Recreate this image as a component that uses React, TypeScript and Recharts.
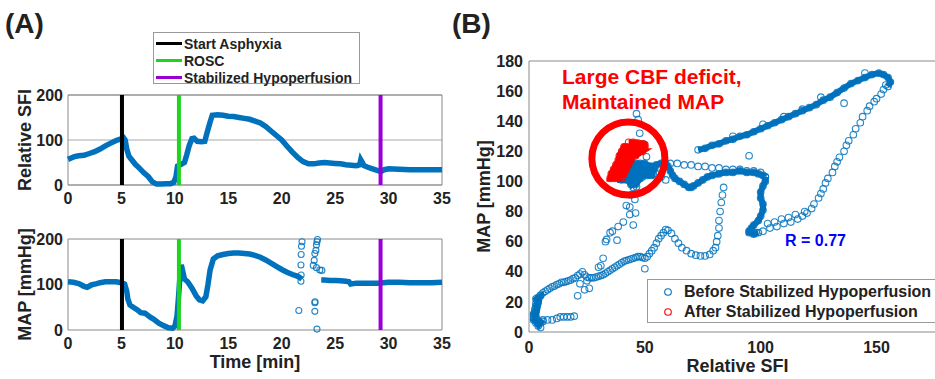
import React from "react";
import {
  ComposedChart,
  Line,
  Scatter,
  XAxis,
  YAxis,
  CartesianGrid,
  ReferenceLine,
  ReferenceArea,
  ReferenceDot,
  Legend,
  Label,
} from "recharts";

const BLUE = "#0072BD";
const RED = "#FF0000";
const INK = "#222";
const BOX = "#8a8a8a";
const FONT = "'Liberation Sans', Arial, sans-serif";

const TIME_TICKS = [0, 5, 10, 15, 20, 25, 30, 35];
const A_Y_TICKS = [0, 100, 200];
const B_X_TICKS = [0, 50, 100, 150];
const B_Y_TICKS = [0, 20, 40, 60, 80, 100, 120, 140, 160, 180];

const EVENTS = [
  { name: "Start Asphyxia", t: 5.05, color: "#000000" },
  { name: "ROSC", t: 10.38, color: "#1ed41e" },
  { name: "Stabilized Hypoperfusion", t: 29.25, color: "#9a00d6" },
];

/* (A) top: relative SFI vs time [min, SFI] */
const sfiTrace: [number, number][] = [
  [0, 57], [0.3, 60], [0.6, 63], [1.0, 65], [1.5, 66], [2.0, 70], [2.5, 74], [3.0, 80],
  [3.5, 87], [4.0, 93], [4.5, 99], [4.9, 102], [5.2, 105], [5.35, 100], [5.5, 80], [5.7, 64],
  [6.0, 55], [6.3, 46], [6.7, 37], [7.1, 27], [7.5, 19], [7.9, 7], [8.3, 2], [8.7, 2],
  [9.2, 3], [9.6, 3], [9.9, 6], [10.1, 18], [10.25, 42], [10.6, 46], [10.9, 50], [11.1, 66],
  [11.35, 88], [11.6, 103], [11.8, 104], [12.1, 97], [12.5, 96], [12.8, 97], [13.0, 115], [13.3, 140],
  [13.5, 155], [14.0, 156], [14.5, 155], [15.0, 153], [15.5, 152], [16.0, 150], [16.5, 148], [17.0, 146],
  [17.5, 142], [18.0, 138], [18.5, 130], [19.0, 120], [19.5, 110], [20.0, 100], [20.5, 86], [21.0, 73],
  [21.5, 61], [22.0, 52], [22.5, 47], [23.0, 47], [23.5, 49], [24.0, 50], [24.5, 49], [25.0, 48],
  [25.5, 47], [26.0, 45], [26.5, 44], [27.0, 43], [27.3, 45], [27.4, 56], [27.55, 50], [27.7, 43],
  [28.0, 40], [28.5, 36], [29.0, 32], [29.3, 30], [29.6, 34], [30.0, 36], [31.0, 35], [32.0, 34],
  [33.0, 34], [34.0, 34], [35.0, 34],
];

/* (A) bottom: MAP vs time [min, mmHg]; null = signal dropout */
const mapTrace: [number, number | null][] = [
  [0, 106], [0.5, 105], [1.0, 102], [1.5, 96], [1.8, 94], [2.2, 99], [2.7, 102], [3.0, 104],
  [3.5, 106], [4.0, 106], [4.5, 106], [5.0, 104], [5.3, 101], [5.5, 85], [5.6, 68], [5.8, 55],
  [6.1, 50], [6.5, 44], [6.8, 38], [7.2, 37], [7.7, 28], [8.0, 24], [8.5, 15], [9.0, 9],
  [9.4, 5], [9.8, 4], [10.0, 8], [10.2, 30], [10.35, 75], [10.5, 125], [10.6, 143], [10.75, 128],
  [10.9, 112], [11.2, 106], [11.6, 92], [12.0, 75], [12.3, 66], [12.6, 64], [12.9, 73], [13.1, 100],
  [13.3, 132], [13.6, 156], [14.0, 163], [14.5, 166], [15.0, 168], [15.5, 169], [16.0, 169], [16.5, 168],
  [17.0, 167], [17.5, 164], [18.0, 160], [18.5, 154], [19.0, 147], [19.5, 140], [20.0, 133], [20.5, 127],
  [21.0, 122], [21.5, 118], [21.9, 112], [22.8, null], [23.7, 110], [24.0, 110], [24.5, 109], [25.0, 109],
  [25.5, 108], [26.0, 107], [26.3, 106], [26.45, 101], [27.0, 103], [27.5, 103], [28.0, 103], [28.5, 103],
  [29.0, 103], [29.5, 104], [30.0, 105], [31.0, 105], [32.0, 104], [33.0, 104], [34.0, 104], [35.0, 105],
];

const mapOutliers: [number, number][] = [
  [21.6, 43], [21.8, 107], [21.82, 121], [21.8, 143], [21.82, 166], [21.85, 184], [21.9, 194],
  [22.95, 142], [23.04, 153], [23.1, 168], [23.2, 175], [23.25, 187], [23.3, 194], [23.35, 199],
  [23.25, 137], [23.57, 132], [23.76, 131], [23.1, 41], [23.1, 60], [23.12, 62], [23.3, 2],
];

/* (B) MAP vs relative SFI [SFI, MAP] */
const bBaseline: [number, number][] = [
  [53, 110], [55, 111], [57, 112], [59, 112], [60, 110], [61, 107], [62, 104], [63, 102],
  [65, 100], [67, 98], [69, 96], [70, 96], [71, 97], [73, 99], [75, 101], [77, 103],
  [79, 104], [82, 105], [85, 106], [88, 106], [91, 107], [94, 106], [97, 106], [99, 105],
  [101, 104], [102, 103],
];
const bBaselineTop: [number, number][] = [
  [58, 112], [61, 112], [64, 112], [67, 111], [70, 111], [73, 110], [76, 110], [79, 109],
  [82, 109], [85, 108], [88, 108], [91, 108], [94, 107], [97, 107], [100, 106],
];
const bHook: [number, number][] = [
  [102, 103], [102, 100], [101, 97], [100, 93], [100, 89], [101, 85], [101, 81], [100, 77],
  [99, 74], [97, 71], [96, 69], [95, 67], [95, 66], [97, 65], [99, 66],
];
const bRise: [number, number][] = [
  [98, 66], [101, 67], [104, 69], [107, 70], [110, 72], [113, 73], [116, 75], [118, 77],
  [120, 79], [122, 82], [123, 85], [125, 89], [126, 92], [127, 95], [128, 99], [129, 102],
  [131, 106], [132, 110], [133, 113], [134, 116], [136, 120], [137, 124], [138, 127], [140, 131],
  [141, 135], [143, 139], [144, 143], [146, 147], [147, 150], [149, 153], [150, 155], [152, 158],
  [153, 161], [154, 164], [103, 72], [106, 73], [109, 75], [112, 76], [115, 78], [119, 80],
];
const bUpper: [number, number][] = [
  [155, 163], [156, 166], [155, 169], [153, 171], [151, 172], [148, 171], [145, 169], [142, 167],
  [139, 165], [136, 162], [133, 159], [130, 156], [127, 154], [124, 151], [121, 149], [118, 147],
  [115, 145], [112, 143], [109, 141], [106, 139], [103, 137], [100, 135], [97, 133], [94, 131],
  [91, 130], [88, 128], [85, 127], [82, 125], [79, 124], [76, 122], [73, 121],
];
const bStray: [number, number][] = [
  [136, 152], [95, 117], [126, 156], [110, 143], [145, 172], [118, 148], [101, 138], [88, 130],
];
const bAsphyxia: [number, number][] = [
  [2, 9], [2, 11], [2.5, 13], [2.5, 15], [3, 17], [3, 19], [3.5, 21], [4, 23],
  [5, 24.5], [6, 26], [7, 27], [8, 28], [9, 29], [10, 30], [11, 30.5], [12, 31.5],
  [13, 32], [14, 33], [15, 33], [16, 33.5], [17, 34], [18, 34.5], [19, 35.5], [20, 36],
  [21, 37.5], [22, 38.5], [23, 40], [24, 38], [25, 36.5], [26, 36], [27, 36], [28, 36],
  [29, 36.5], [30, 37], [31, 37.5], [32, 38], [33, 39], [34, 40], [35, 41], [36, 42],
  [37, 43], [38, 44], [39, 45], [40, 46], [41, 47], [42, 47.5], [43, 48], [44, 48.5],
  [45, 49], [46, 49.5], [47, 50], [48, 50], [49, 49.5], [50, 49], [51, 50], [52, 52],
  [53, 54], [54, 56], [55, 59], [56, 62], [57, 64], [58, 66], [59, 68], [60, 67.5],
  [61.5, 65.5], [63, 62], [64.5, 59], [66, 56], [68, 54], [70, 52], [72, 51], [74, 50.5],
  [76, 50.5], [78, 51.5], [79.5, 54], [80.5, 56], [81, 60], [81.5, 64], [82, 69], [82, 74],
  [82.5, 80], [83, 86], [83.5, 91], [84, 96], [50, 42],
];
const bLowBlob: [number, number][] = [
  [5, 3], [4, 4], [3, 6], [2, 8], [3, 10], [2, 12], [3, 14], [3, 17], [4, 20], [3, 22], [5, 24],
  [3, 9], [4, 7], [5, 6], [6, 8],
];
const bLowRow: [number, number][] = [
  [6, 7], [8, 8], [10, 8], [12, 9], [13.5, 10], [15, 10], [16.5, 10], [18, 10], [19.5, 10.5],
];
const bRosc: [number, number][] = [
  [21, 24], [24, 28], [22, 32], [26, 29], [25, 34], [30, 43], [31, 44], [32, 49],
  [33, 60], [33.5, 61.5], [35, 66], [36, 67], [38, 61], [38.5, 70], [40.7, 73], [43.5, 78],
  [45, 71], [46, 79], [43.5, 83], [42, 84], [45.7, 88], [44, 91], [46.4, 96.5], [45, 99],
  [47, 101], [49, 103], [50, 106], [52, 110], [53.6, 105], [50.7, 116.4], [49.3, 125], [47.8, 132],
  [47.1, 141], [46.4, 145], [55, 105], [57, 103], [59, 101],
];
const bPost: [number, number][] = [
  [44, 112], [46, 112], [48, 112], [50, 112],
  [52, 110], [50, 110], [48, 110], [46, 110], [44, 110],
  [42, 107], [44, 107], [46, 107], [48, 107], [50, 107], [52, 107], [54, 108],
  [53, 104], [51, 104], [49, 104], [47, 104], [45, 104], [43, 104], [41, 104],
  [40, 101], [42, 101], [44, 101], [46, 101], [48, 102],
  [46, 98], [44, 98], [45, 96],
];
const bAfter: [number, number][] = [
  [43, 126], [45, 126], [47, 125.5], [49, 125], [50, 124.5],
  [50, 123], [48, 123], [46, 123], [44, 123], [42, 123], [41, 123],
  [40, 120], [42, 120], [44, 120], [46, 120], [48, 120], [49, 120],
  [46, 117], [44, 117], [42, 117], [40, 117], [39, 117],
  [38.5, 114], [40, 114], [42, 114], [44, 114],
  [43, 111], [41, 111], [39, 111], [37.5, 111],
  [36.5, 108], [38, 108], [40, 108], [42, 108],
  [41, 105], [39, 105], [37, 105], [35.5, 105],
  [35, 102], [37, 102], [39, 102], [40, 102],
];

const tsRows = (rows: [number, number | null][]) => rows.map(([t, v]) => ({ t, v }));
const bRows = (rows: [number, number][]) => rows.map(([sfi, map]) => ({ sfi, map }));

const tickStyle = { fontSize: 16, fontWeight: 700, fill: INK, fontFamily: FONT };
const titleStyle = { fontSize: 18, fontWeight: 700, fill: INK, fontFamily: FONT };
const inTick = { stroke: BOX, strokeWidth: 1 };

const ring = (color: string, r = 3.3) => (p: any) =>
  p.cx == null ? <g /> : (
    <circle cx={p.cx} cy={p.cy} r={r} fill="none" stroke={color} strokeWidth={1.1} strokeOpacity={0.85} />
  );

function EventLegend() {
  return (
    <div
      style={{
        width: 207,
        height: 52,
        boxSizing: "border-box",
        border: "1px solid #9a9a9a",
        background: "#fff",
        fontFamily: FONT,
        fontWeight: 700,
        fontSize: 14,
        color: INK,
        paddingTop: 2,
      }}
    >
      {EVENTS.map((e) => (
        <div key={e.name} style={{ display: "flex", alignItems: "center", height: 17 }}>
          <span style={{ display: "inline-block", width: 26, height: 3, background: e.color, marginLeft: 2, marginRight: 2 }} />
          {e.name}
        </div>
      ))}
    </div>
  );
}

function ScatterLegend() {
  const items = [
    { name: "Before Stabilized Hypoperfusion", color: BLUE },
    { name: "After Stabilized Hypoperfusion", color: RED },
  ];
  return (
    <div
      style={{
        width: 300,
        height: 44,
        boxSizing: "border-box",
        border: "1px solid #9a9a9a",
        background: "#fff",
        fontFamily: FONT,
        fontWeight: 700,
        fontSize: 16,
        color: INK,
        paddingTop: 2,
      }}
    >
      {items.map((it) => (
        <div key={it.name} style={{ display: "flex", alignItems: "center", height: 20 }}>
          <svg width={36} height={20}>
            <circle cx={20} cy={10} r={3.3} fill="none" stroke={it.color} strokeWidth={1.1} />
          </svg>
          {it.name}
        </div>
      ))}
    </div>
  );
}

export default function App() {
  const sfiData = tsRows(sfiTrace);
  const mapData = tsRows(mapTrace);
  const outlierData = tsRows(mapOutliers);

  return (
    <div
      style={{
        position: "absolute",
        left: 0,
        top: 0,
        width: 935,
        height: 379,
        overflow: "hidden",
        background: "#fff",
        fontFamily: FONT,
      }}
    >
      {/* ---- (A) top: relative SFI ---- */}
      <div style={{ position: "absolute", left: 0, top: 0 }}>
        <ComposedChart width={470} height={215} data={sfiData} margin={{ top: 95, right: 28, bottom: 0, left: 0 }}>
          <CartesianGrid vertical={false} stroke="#a8a8a8" />
          <XAxis dataKey="t" type="number" domain={[0, 35]} ticks={TIME_TICKS} height={30} tick={tickStyle} tickLine={false} axisLine={false} />
          <XAxis xAxisId="inB" dataKey="t" type="number" domain={[0, 35]} ticks={TIME_TICKS} mirror tick={false} axisLine={false} tickLine={inTick} tickSize={4} />
          <XAxis xAxisId="inT" dataKey="t" type="number" domain={[0, 35]} ticks={TIME_TICKS} orientation="top" mirror tick={false} axisLine={false} tickLine={inTick} tickSize={4} />
          <YAxis type="number" domain={[0, 200]} ticks={A_Y_TICKS} width={68} tick={tickStyle} tickLine={false} axisLine={false} tickSize={4} tickMargin={1}>
            <Label value="Relative SFI" angle={-90} position="insideLeft" offset={25} style={{ ...titleStyle, textAnchor: "middle" }} />
          </YAxis>
          <ReferenceArea x1={0} x2={35} y1={0} y2={200} fill="none" stroke={BOX} strokeWidth={1} />
          <Line dataKey="v" stroke={BLUE} strokeWidth={5.5} dot={false} isAnimationActive={false} />
          {EVENTS.map((e) => (
            <ReferenceLine key={e.name} x={e.t} stroke={e.color} strokeWidth={4} />
          ))}
          <Legend
            layout="vertical"
            align="center"
            verticalAlign="middle"
            wrapperStyle={{ position: "absolute", left: 153, top: 32, width: 207, height: 52 }}
            content={() => <EventLegend />}
          />
        </ComposedChart>
      </div>

      {/* ---- (A) bottom: MAP ---- */}
      <div style={{ position: "absolute", left: 0, top: 215 }}>
        <ComposedChart width={470} height={164} data={mapData} margin={{ top: 24, right: 28, bottom: 0, left: 0 }}>
          <XAxis dataKey="t" type="number" domain={[0, 35]} ticks={TIME_TICKS} height={49} tick={tickStyle} tickLine={false} axisLine={false}>
            <Label value="Time [min]" position="insideBottom" offset={11} style={titleStyle} />
          </XAxis>
          <XAxis xAxisId="inB" dataKey="t" type="number" domain={[0, 35]} ticks={TIME_TICKS} mirror tick={false} axisLine={false} tickLine={inTick} tickSize={4} />
          <XAxis xAxisId="inT" dataKey="t" type="number" domain={[0, 35]} ticks={TIME_TICKS} orientation="top" mirror tick={false} axisLine={false} tickLine={inTick} tickSize={4} />
          <YAxis type="number" domain={[0, 200]} ticks={A_Y_TICKS} width={68} tick={tickStyle} tickLine={false} axisLine={false} tickSize={4} tickMargin={1}>
            <Label value="MAP [mmHg]" angle={-90} position="insideLeft" offset={25} style={{ ...titleStyle, textAnchor: "middle" }} />
          </YAxis>
          <ReferenceArea x1={0} x2={35} y1={0} y2={200} fill="none" stroke={BOX} strokeWidth={1} />
          <Line dataKey="v" stroke={BLUE} strokeWidth={5.5} dot={false} connectNulls={false} isAnimationActive={false} />
          <Scatter data={outlierData} dataKey="v" shape={ring(BLUE, 3)} isAnimationActive={false} />
          {EVENTS.map((e) => (
            <ReferenceLine key={e.name} x={e.t} stroke={e.color} strokeWidth={4} />
          ))}
        </ComposedChart>
      </div>

      {/* ---- (B) MAP vs relative SFI ---- */}
      <div style={{ position: "absolute", left: 470, top: 0 }}>
        <ComposedChart width={480} height={379} margin={{ top: 61, right: 4, bottom: 0, left: 0 }}>
          <XAxis dataKey="sfi" type="number" domain={[0, 180]} ticks={B_X_TICKS} height={47} tick={tickStyle} tickLine={false} axisLine={false} tickMargin={4} allowDataOverflow>
            <Label value="Relative SFI" position="insideBottom" offset={7} style={titleStyle} />
          </XAxis>
          <XAxis xAxisId="inB" dataKey="sfi" type="number" domain={[0, 180]} ticks={B_X_TICKS} mirror tick={false} axisLine={false} tickLine={inTick} tickSize={4} />
          <XAxis xAxisId="inT" dataKey="sfi" type="number" domain={[0, 180]} ticks={B_X_TICKS} orientation="top" mirror tick={false} axisLine={false} tickLine={inTick} tickSize={4} />
          <YAxis dataKey="map" type="number" domain={[0, 180]} ticks={B_Y_TICKS} width={59} tick={tickStyle} tickLine={false} axisLine={false} tickSize={4} tickMargin={2} allowDataOverflow>
            <Label value="MAP [mmHg]" angle={-90} position="insideLeft" offset={14} style={{ ...titleStyle, textAnchor: "middle" }} />
          </YAxis>
          <YAxis yAxisId="inL" dataKey="map" type="number" domain={[0, 180]} ticks={B_Y_TICKS} mirror tick={false} axisLine={false} tickLine={inTick} tickSize={4} />
          <ReferenceArea x1={0} x2={180} y1={0} y2={180} fill="none" stroke={BOX} strokeWidth={1} />
          <Scatter name="Before Stabilized Hypoperfusion" data={bRows(bBaseline)} shape={ring(BLUE)} line={{ stroke: BLUE, strokeWidth: 6 }} lineType="joint" isAnimationActive={false} />
          <Scatter data={bRows(bBaselineTop)} shape={ring(BLUE)} isAnimationActive={false} />
          <Scatter data={bRows(bHook)} shape={ring(BLUE)} line={{ stroke: BLUE, strokeWidth: 6 }} lineType="joint" isAnimationActive={false} />
          <Scatter data={bRows(bRise)} shape={ring(BLUE)} isAnimationActive={false} />
          <Scatter data={bRows(bUpper)} shape={ring(BLUE)} line={{ stroke: BLUE, strokeWidth: 6 }} lineType="joint" isAnimationActive={false} />
          <Scatter data={bRows(bStray)} shape={ring(BLUE)} isAnimationActive={false} />
          <Scatter data={bRows(bAsphyxia)} shape={ring(BLUE)} isAnimationActive={false} />
          <Scatter data={bRows(bLowBlob)} shape={ring(BLUE)} line={{ stroke: BLUE, strokeWidth: 5 }} lineType="joint" isAnimationActive={false} />
          <Scatter data={bRows(bLowRow)} shape={ring(BLUE)} isAnimationActive={false} />
          <Scatter data={bRows(bRosc)} shape={ring(BLUE)} isAnimationActive={false} />
          <Scatter data={bRows(bPost)} shape={ring(BLUE)} line={{ stroke: BLUE, strokeWidth: 6 }} lineType="joint" isAnimationActive={false} />
          <Scatter name="After Stabilized Hypoperfusion" data={bRows(bAfter)} shape={ring(RED)} line={{ stroke: RED, strokeWidth: 6 }} lineType="joint" isAnimationActive={false} />
          <ReferenceDot x={42.9} y={115.3} r={36.5} fill="none" stroke={RED} strokeWidth={7} />
          <Legend
            layout="vertical"
            align="center"
            verticalAlign="middle"
            wrapperStyle={{ position: "absolute", left: 177, top: 279, width: 300, height: 44 }}
            content={() => <ScatterLegend />}
          />
        </ComposedChart>
      </div>

      {/* ---- annotations ---- */}
      <div style={{ position: "absolute", left: 5, top: 8, fontSize: 28, fontWeight: 700, color: INK }}>(A)</div>
      <div style={{ position: "absolute", left: 452, top: 8, fontSize: 28, fontWeight: 700, color: INK }}>(B)</div>
      <div style={{ position: "absolute", left: 562, top: 64, fontSize: 21, fontWeight: 700, color: RED, lineHeight: "25px" }}>
        Large CBF deficit,
        <br />
        Maintained MAP
      </div>
      <div style={{ position: "absolute", left: 785, top: 232, fontSize: 16, fontWeight: 700, color: "#0000ff" }}>R = 0.77</div>
    </div>
  );
}
